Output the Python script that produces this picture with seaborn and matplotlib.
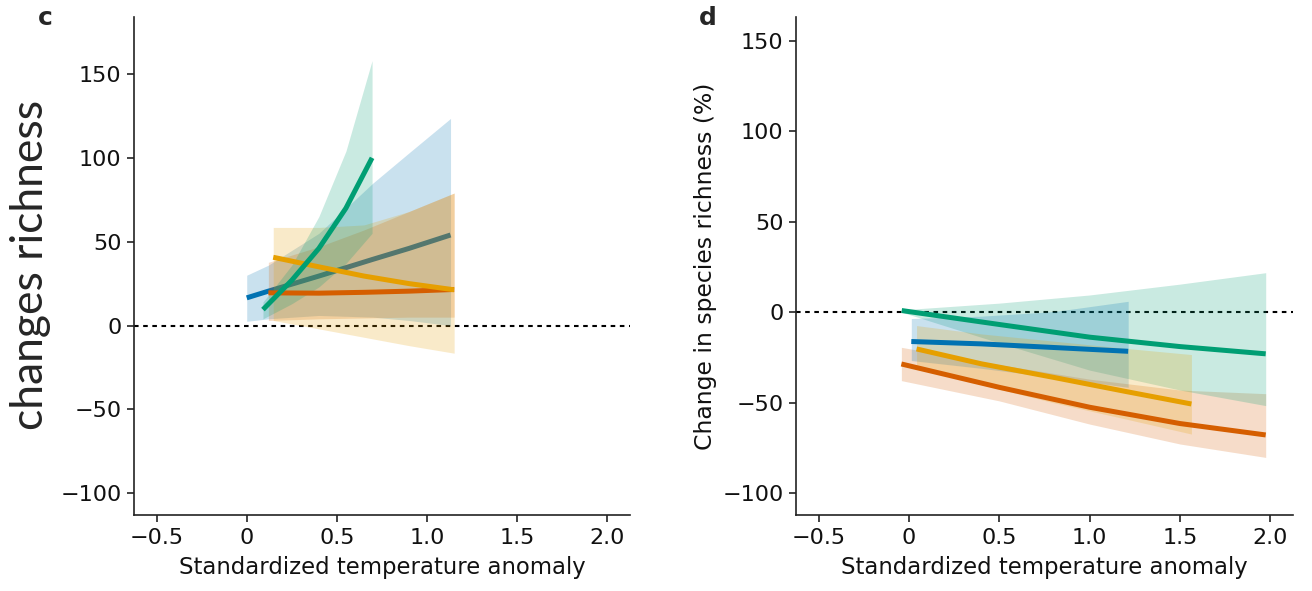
import matplotlib
matplotlib.use("Agg")
import matplotlib.pyplot as plt
import seaborn as sns
import pandas as pd

# colours (Okabe-Ito)
GREEN = "#009E73"
BLUE = "#0072B2"
YELLOW = "#E69F00"
ORANGE = "#D55E00"

# ---- panel c ----
c_green_x = [0.09, 0.25, 0.40, 0.55, 0.695]
c_green_y = [9.5, 27, 46, 70, 100]
c_green_lo = [4, 13, 23, 37, 55]
c_green_hi = [14, 36, 65, 104, 158]

c_blue_x = [0.0, 0.12, 0.40, 0.70, 0.90, 1.13]
c_blue_y = [16.5, 20.5, 29.5, 39.5, 46, 54]
c_blue_lo = [2.5, 4, 6, 5, 3, 0]
c_blue_hi = [30, 36, 55, 85, 103, 123.5]

c_yellow_x = [0.147, 0.40, 0.65, 0.90, 1.15]
c_yellow_y = [40.7, 35, 29.5, 25, 21.3]
c_yellow_lo = [3, -2, -7, -12, -16.5]
c_yellow_hi = [58.5, 58.5, 60, 68, 79]

c_orange_x = [0.12, 0.40, 0.65, 0.90, 1.15]
c_orange_y = [19.5, 19.3, 19.8, 20.5, 21.5]
c_orange_lo = [3, 4, 4.5, 5, 5]
c_orange_hi = [37.7, 47, 57, 68, 79]

# ---- panel d ----
d_green_x = [-0.04, 0.5, 1.0, 1.5, 1.974]
d_green_y = [0.9, -6.8, -13.8, -19, -23]
d_green_lo = [0, -17, -32, -43, -51.6]
d_green_hi = [1.3, 5, 9.5, 15.5, 21.8]

d_blue_x = [0.013, 0.4, 0.8, 1.213]
d_blue_y = [-16.2, -17.5, -19.5, -21.6]
d_blue_lo = [-26.7, -31, -36, -41.5]
d_blue_hi = [-3.5, -2.2, 0.3, 6]

d_yellow_x = [0.042, 0.4, 0.8, 1.2, 1.563]
d_yellow_y = [-20.3, -28.5, -36, -43.8, -50.7]
d_yellow_lo = [-30, -40, -50, -59, -67.3]
d_yellow_hi = [-7.4, -12, -16, -20, -23.4]

d_orange_x = [-0.042, 0.5, 1.0, 1.5, 1.974]
d_orange_y = [-28.6, -41.5, -52.5, -61.5, -67.8]
d_orange_lo = [-37.8, -49, -61.8, -72.8, -80.2]
d_orange_hi = [-19.4, -29, -37, -43, -45]

xticks = [-0.5, 0, 0.5, 1.0, 1.5, 2.0]
xticklabels = ["\u22120.5", "0", "0.5", "1.0", "1.5", "2.0"]
yticks = [-100, -50, 0, 50, 100, 150]

sns.set_theme(style="ticks")
plt.rcParams["font.family"] = ["DejaVu Sans"]


def band(ax, x, lo, hi, color):
    ax.fill_between(x, lo, hi, color=color, alpha=0.21, lw=0, zorder=1)


def line(ax, x, y, color, z=2):
    df = pd.DataFrame({"x": x, "y": y})
    sns.lineplot(data=df, x="x", y="y", ax=ax, color=color, lw=3.6,
                 errorbar=None, solid_capstyle="butt", zorder=z)


def style_axes(ax, ylim):
    ax.axhline(0, color="black", lw=1.5, ls=(0, (2.2, 2.2)), zorder=0.5)
    ax.set_xlim(-0.625, 2.125)
    ax.set_ylim(*ylim)
    ax.set_xticks(xticks)
    ax.set_xticklabels(xticklabels)
    ax.set_yticks(yticks)
    ax.tick_params(labelsize=16, length=5, width=1.2, color="#222222",
                   labelcolor="#111111", pad=4)
    for s in ["left", "bottom"]:
        ax.spines[s].set_linewidth(1.2)
        ax.spines[s].set_color("#222222")
    sns.despine(ax=ax)
    ax.set_xlabel("Standardized temperature anomaly", fontsize=16.4,
                  color="#111111", labelpad=6)


fig = plt.figure(figsize=(13.12, 5.91), dpi=100)
ax_c = fig.add_axes([134 / 1312, 1 - 515 / 591, 496 / 1312, 498 / 591])
ax_d = fig.add_axes([796 / 1312, 1 - 515 / 591, 497 / 1312, 498 / 591])

# panel c: the blue line sits under the orange and yellow bands
band(ax_c, c_blue_x, c_blue_lo, c_blue_hi, BLUE)
line(ax_c, c_blue_x, c_blue_y, BLUE, z=1)
band(ax_c, c_orange_x, c_orange_lo, c_orange_hi, ORANGE)
band(ax_c, c_yellow_x, c_yellow_lo, c_yellow_hi, YELLOW)
band(ax_c, c_green_x, c_green_lo, c_green_hi, GREEN)
line(ax_c, c_orange_x, c_orange_y, ORANGE)
line(ax_c, c_yellow_x, c_yellow_y, YELLOW)
line(ax_c, c_green_x, c_green_y, GREEN)
style_axes(ax_c, (-113, 184))
ax_c.set_ylabel("")

# panel d
band(ax_d, d_orange_x, d_orange_lo, d_orange_hi, ORANGE)
band(ax_d, d_green_x, d_green_lo, d_green_hi, GREEN)
band(ax_d, d_blue_x, d_blue_lo, d_blue_hi, BLUE)
band(ax_d, d_yellow_x, d_yellow_lo, d_yellow_hi, YELLOW)
line(ax_d, d_orange_x, d_orange_y, ORANGE)
line(ax_d, d_yellow_x, d_yellow_y, YELLOW)
line(ax_d, d_blue_x, d_blue_y, BLUE)
line(ax_d, d_green_x, d_green_y, GREEN)
style_axes(ax_d, (-112, 163))
ax_d.set_ylabel("Change in species richness (%)", fontsize=16.9,
                color="#111111", labelpad=4)

# overlaid label on panel c and panel letters
fig.text(31 / 1312, 1 - 265 / 591, "changes richness", rotation=90,
         ha="center", va="center", fontsize=32, family=["Lato", "DejaVu Sans"])
fig.text(45 / 1312, 1 - 18 / 591, "c", fontsize=18, fontweight="bold",
         ha="center", va="center")
fig.text(708 / 1312, 1 - 18 / 591, "d", fontsize=18, fontweight="bold",
         ha="center", va="center")

fig.savefig("out.png", dpi=100)
